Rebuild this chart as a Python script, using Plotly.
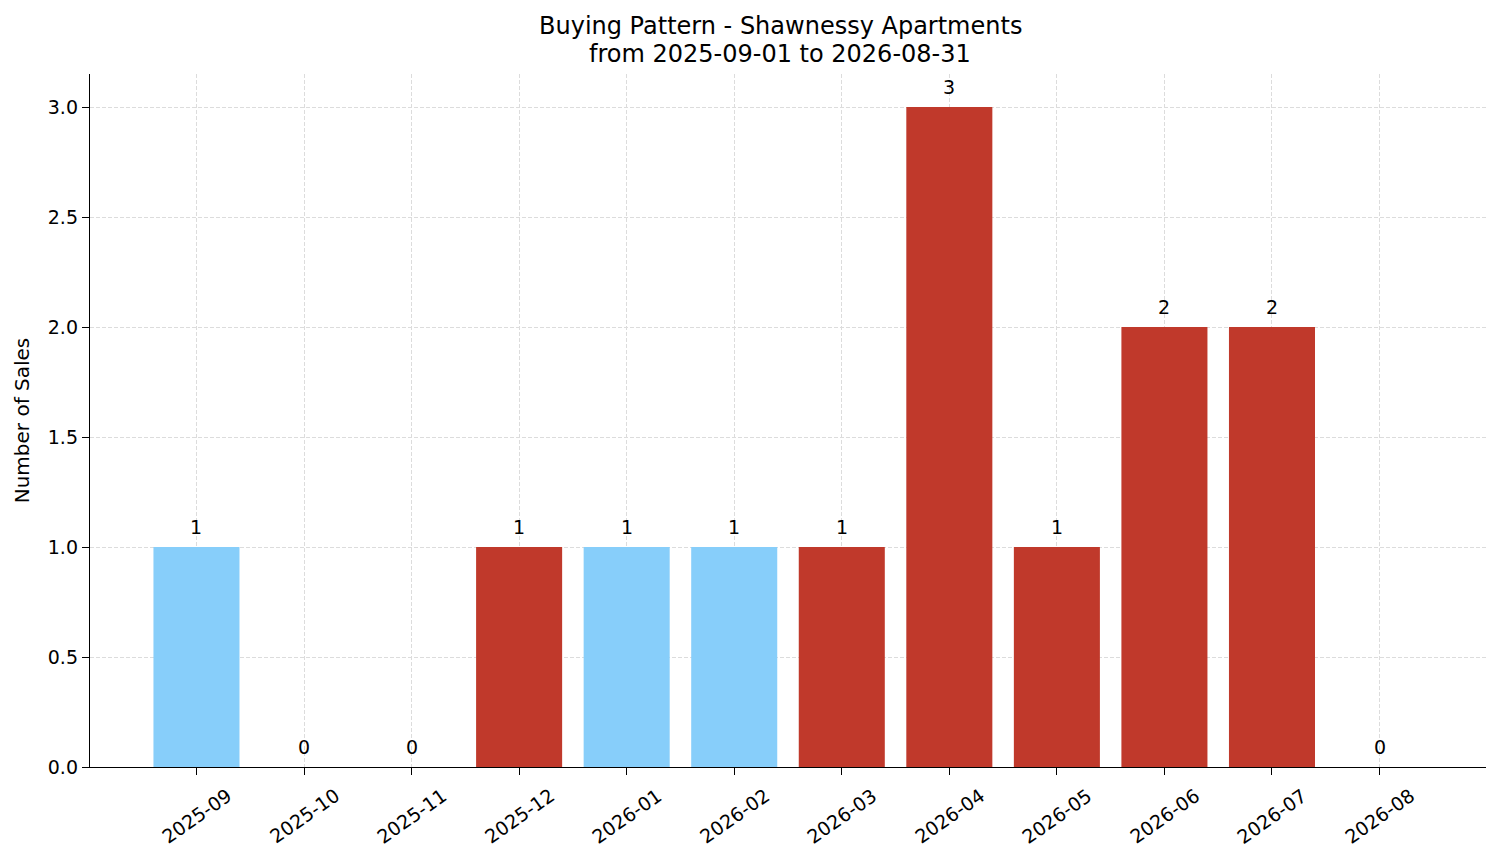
import plotly.graph_objects as go

months = ['2025-09', '2025-10', '2025-11', '2025-12', '2026-01', '2026-02',
          '2026-03', '2026-04', '2026-05', '2026-06', '2026-07', '2026-08']
sales = [1, 0, 0, 1, 1, 1, 1, 3, 1, 2, 2, 0]
colours = ['#87CEFA', '#C0392B', '#C0392B', '#C0392B', '#87CEFA', '#87CEFA',
           '#C0392B', '#C0392B', '#C0392B', '#C0392B', '#C0392B', '#C0392B']
title_lines = ['Buying Pattern - Shawnessy Apartments', 'from 2025-09-01 to 2026-08-31']

font = 'DejaVu Sans'

fig = go.Figure()
fig.add_trace(go.Bar(x=months, y=sales, marker_color=colours, marker_line_width=0,
                     width=0.8, hoverinfo='x+y'))

# value labels above each bar
for m, v in zip(months, sales):
    fig.add_annotation(x=m, y=v, xref='x', yref='y', text=str(v), showarrow=False,
                       xanchor='center', yanchor='bottom', yshift=7,
                       font=dict(family=font, size=19, color='black'))

# rotated month labels, centred under each tick like matplotlib
for m in months:
    fig.add_annotation(x=m, y=0, xref='x', yref='paper', text=m, showarrow=False,
                       textangle=-35, xanchor='center', yanchor='middle', yshift=-49,
                       font=dict(family=font, size=19, color='black'))

# two-line title, spaced like the original
for line, shift in zip(title_lines, [48, 20]):
    fig.add_annotation(x=0.5, y=1, xref='paper', yref='paper', text=line, showarrow=False,
                       xanchor='center', yanchor='middle', yshift=shift, xshift=-8,
                       font=dict(family=font, size=24, color='black'))

fig.update_layout(
    width=1501, height=863,
    paper_bgcolor='white', plot_bgcolor='white',
    showlegend=False, bargap=0.2,
    margin=dict(l=90, r=15, t=74, b=96),
    font=dict(family=font, size=19, color='black'),
)
fig.update_xaxes(type='category', range=[-0.99, 11.99], showticklabels=False,
                 showline=True, linecolor='black', linewidth=1.4,
                 ticks='outside', ticklen=7, tickwidth=1.4, tickcolor='black',
                 showgrid=True, gridcolor='#dcdcdc', griddash='4px,2px', gridwidth=0.8,
                 layer='above traces', zeroline=False)
fig.update_yaxes(range=[0, 3.15], dtick=0.5, tickformat='.1f',
                 showline=True, linecolor='black', linewidth=1.4,
                 ticks='outside', ticklen=7, tickwidth=1.4, tickcolor='black',
                 showgrid=True, gridcolor='#dcdcdc', griddash='4px,2px', gridwidth=0.8,
                 layer='above traces', zeroline=False,
                 title=dict(text='Number of Sales', standoff=12,
                            font=dict(family=font, size=20, color='black')),
                 tickfont=dict(family=font, size=19, color='black'))

fig.write_html('out.html', config={'displayModeBar': False},
               post_script="document.body.style.margin='0';")
